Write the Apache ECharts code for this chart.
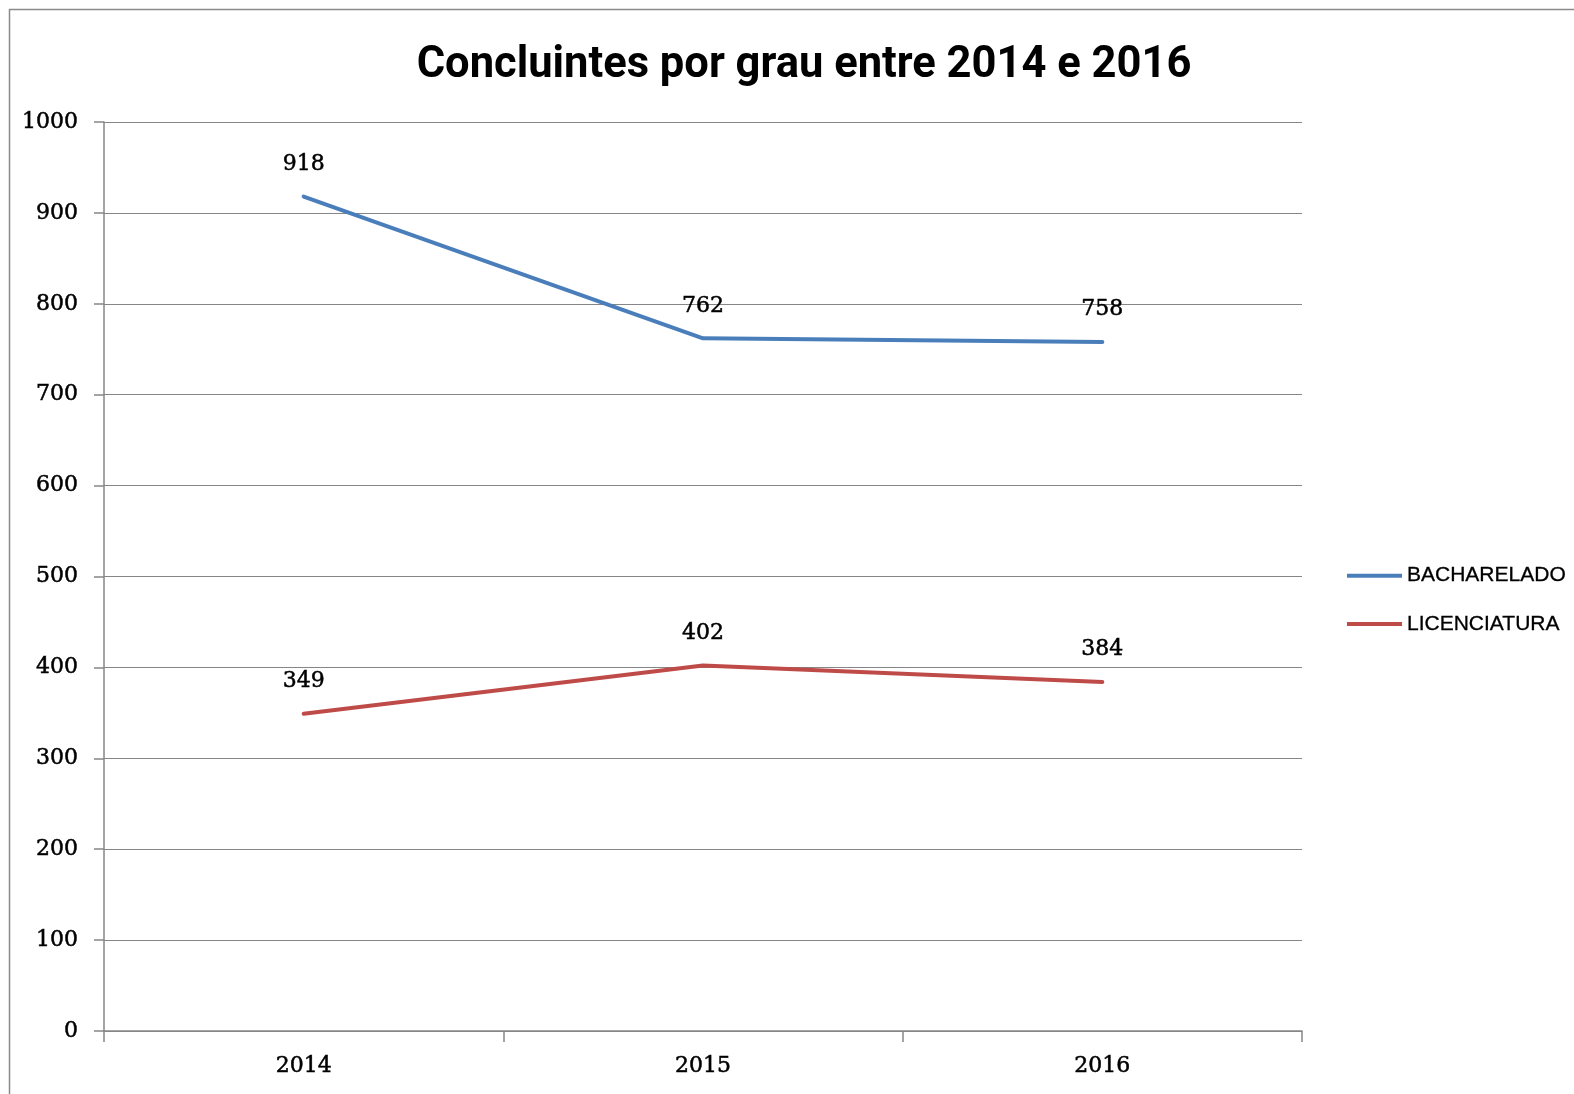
<!DOCTYPE html>
<html>
<head>
<meta charset="utf-8">
<script src="https://cdn.jsdelivr.net/npm/echarts@6/dist/echarts.min.js"></script>
<style>
html,body{margin:0;padding:0;background:#fff;}
#chart{width:1574px;height:1094px;}
</style>
</head>
<body>
<div id="chart"></div>
<script>
const titleText = 'Concluintes por grau entre 2014 e 2016';
const categories = ['2014', '2015', '2016'];
const seriesNames = ['BACHARELADO', 'LICENCIATURA'];
const bacharelado = [918, 762, 758];
const licenciatura = [349, 402, 384];

const chart = echarts.init(document.getElementById('chart'), null, {renderer: 'canvas'});
const labelFont = {fontFamily: 'DejaVu Serif', fontSize: 22, color: '#000', textBorderColor: '#000', textBorderWidth: 0.5};
const option = {
  animation: false,
  backgroundColor: '#ffffff',
  graphic: [{
    type: 'rect',
    silent: true,
    shape: {x: 9.5, y: 9.5, width: 1700, height: 1200},
    style: {fill: 'none', stroke: '#8a8a8a', lineWidth: 1.5}
  }],
  title: {
    text: titleText,
    left: 799,
    top: 39,
    textAlign: 'center',
    textStyle: {fontFamily: 'Roboto', fontWeight: 'bold', fontSize: 43.5, color: '#000'}
  },
  legend: {
    data: seriesNames,
    orient: 'vertical',
    left: 1342,
    top: 560,
    icon: 'rect',
    itemWidth: 55,
    itemHeight: 4,
    itemGap: 27,
    textStyle: {fontFamily: 'Liberation Sans', fontSize: 21, color: '#000', lineHeight: 21, textBorderColor: '#000', textBorderWidth: 0.3}
  },
  grid: {left: 104, right: 272, top: 122, bottom: 63, containLabel: false},
  xAxis: {
    type: 'category',
    data: categories,
    boundaryGap: true,
    axisLine: {show: true, lineStyle: {color: '#868686', width: 1.5}},
    axisTick: {show: true, length: 11, alignWithLabel: false, lineStyle: {color: '#868686', width: 1.5}},
    axisLabel: Object.assign({margin: 24}, labelFont),
    splitLine: {show: false}
  },
  yAxis: {
    type: 'value',
    min: 0,
    max: 1000,
    interval: 100,
    axisLine: {show: true, lineStyle: {color: '#868686', width: 1.5}},
    axisTick: {show: true, length: 10, lineStyle: {color: '#868686', width: 1.5}},
    axisLabel: Object.assign({margin: 26, formatter: function (v) { return String(v); }}, labelFont),
    splitLine: {show: true, lineStyle: {color: '#868686', width: 1.2}}
  },
  series: [
    {
      name: seriesNames[0],
      type: 'line',
      data: bacharelado,
      color: '#4A7EBB',
      symbol: 'circle',
      symbolSize: 1,
      lineStyle: {width: 4, color: '#4A7EBB', cap: 'round'},
      label: Object.assign({show: true, position: 'top', distance: 21}, labelFont)
    },
    {
      name: seriesNames[1],
      type: 'line',
      data: licenciatura,
      color: '#BE4B48',
      symbol: 'circle',
      symbolSize: 1,
      lineStyle: {width: 4, color: '#BE4B48', cap: 'round'},
      label: Object.assign({show: true, position: 'top', distance: 21}, labelFont)
    }
  ]
};
chart.setOption(option);
</script>
</body>
</html>
